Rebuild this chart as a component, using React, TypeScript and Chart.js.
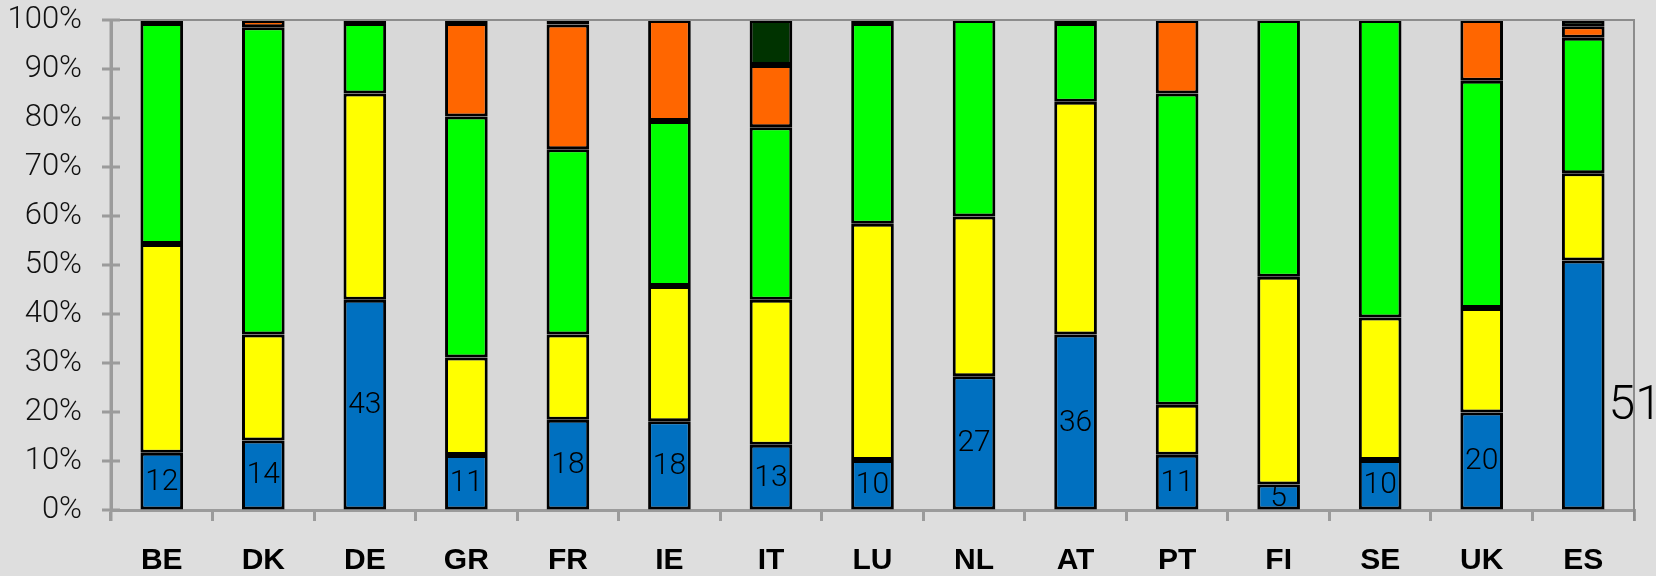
import React, { useEffect, useRef } from 'react';
import { Chart, registerables } from 'chart.js';

Chart.register(...registerables);

const countries = ['BE', 'DK', 'DE', 'GR', 'FR', 'IE', 'IT', 'LU', 'NL', 'AT', 'PT', 'FI', 'SE', 'UK', 'ES'];
const blueValues = [11.7, 14.2, 42.9, 11.2, 18.4, 18.1, 13.3, 10.2, 27.3, 35.8, 11.3, 5.2, 10.2, 19.9, 50.9];
const yellowValues = [42.6, 21.6, 42.1, 19.9, 17.4, 27.6, 29.6, 48.2, 32.6, 47.5, 10.2, 42.4, 29.1, 21.3, 17.8];
const greenValues = [45.1, 62.7, 14.4, 49.2, 37.8, 33.7, 35.2, 41.0, 40.1, 16.1, 63.5, 52.4, 60.7, 46.4, 27.7];
const orangeValues = [0.6, 1.5, 0.6, 19.1, 25.5, 20.6, 12.7, 0, 0, 0, 15.0, 0, 0, 12.4, 2.3];
const darkGreenValues = [0, 0, 0, 0.6, 0.9, 0, 9.2, 0.6, 0, 0.6, 0, 0, 0, 0, 1.3];
const yTicks = [0, 10, 20, 30, 40, 50, 60, 70, 80, 90, 100];
const outsideLabelCategory = 'ES';

const AXIS_GREY = '#9b9b9b';
const LIGHT_FONT = '"Roboto", "Liberation Sans", sans-serif';

const decorPlugin = {
  id: 'decor',
  beforeDraw(chart: any) {
    const { ctx, chartArea: a, width, height } = chart;
    ctx.save();
    ctx.fillStyle = '#dedede';
    ctx.fillRect(0, 0, width, height);
    ctx.fillStyle = '#d8d8d8';
    ctx.fillRect(a.left, a.top, a.right - a.left, a.bottom - a.top);
    ctx.restore();
  },
  afterDraw(chart: any) {
    const { ctx, chartArea: a, scales } = chart;
    const y = scales.y;
    ctx.save();
    ctx.strokeStyle = '#8c8c8c';
    ctx.lineWidth = 2;
    ctx.beginPath();
    ctx.moveTo(a.left, a.top);
    ctx.lineTo(a.right, a.top);
    ctx.lineTo(a.right, a.bottom + 11);
    ctx.stroke();
    ctx.strokeStyle = AXIS_GREY;
    ctx.lineWidth = 3;
    ctx.beginPath();
    ctx.moveTo(a.left, a.top);
    ctx.lineTo(a.left, a.bottom + 11);
    ctx.stroke();
    yTicks.forEach((v) => {
      const py = y.getPixelForValue(v);
      ctx.beginPath();
      ctx.moveTo(a.left - 9, py);
      ctx.lineTo(a.left + 9, py);
      ctx.stroke();
    });
    const meta = chart.getDatasetMeta(0);
    ctx.fillStyle = '#000';
    ctx.textBaseline = 'middle';
    meta.data.forEach((bar: any, i: number) => {
      const text = String(Math.round(blueValues[i]));
      if (countries[i] === outsideLabelCategory) {
        ctx.font = `300 48px ${LIGHT_FONT}`;
        ctx.textAlign = 'left';
        const h = bar.base - bar.y;
        ctx.fillText(text, bar.x + bar.width / 2 + 4, bar.base - h * 0.41);
      } else {
        ctx.font = `300 30px ${LIGHT_FONT}`;
        ctx.textAlign = 'center';
        ctx.fillText(text, bar.x, (bar.y + bar.base) / 2 + 1);
      }
    });
    ctx.restore();
  },
};

export default function App() {
  const canvasRef = useRef<HTMLCanvasElement | null>(null);

  useEffect(() => {
    document.body.style.margin = '0';
    const canvas = canvasRef.current;
    if (!canvas) return;
    const common = {
      borderColor: '#000000',
      borderWidth: 3,
      borderSkipped: false,
      barPercentage: 0.42,
      categoryPercentage: 1,
    };
    const chart = new Chart(canvas, {
      type: 'bar',
      data: {
        labels: countries,
        datasets: [
          { label: 'blue', data: blueValues, backgroundColor: '#0070C0', ...common },
          { label: 'yellow', data: yellowValues, backgroundColor: '#FFFF00', ...common },
          { label: 'green', data: greenValues, backgroundColor: '#00FF00', ...common },
          { label: 'orange', data: orangeValues, backgroundColor: '#FF6600', ...common },
          { label: 'darkgreen', data: darkGreenValues, backgroundColor: '#003300', ...common },
        ],
      },
      options: {
        responsive: true,
        maintainAspectRatio: false,
        animation: false,
        layout: { padding: { top: 20, right: 22, left: 0, bottom: 0 } },
        plugins: {
          legend: { display: false },
          tooltip: { enabled: false },
        },
        scales: {
          x: {
            stacked: true,
            offset: true,
            afterFit: (s: any) => {
              s.height = 66;
              s.paddingLeft = 0;
              s.paddingRight = 0;
            },
            grid: {
              offset: true,
              drawOnChartArea: false,
              drawTicks: true,
              tickLength: 11,
              color: AXIS_GREY,
              lineWidth: 3,
            },
            border: { display: true, color: AXIS_GREY, width: 3 },
            ticks: {
              color: '#000',
              padding: 22,
              font: { family: '"Liberation Sans", Arial, sans-serif', size: 30, weight: 'bold' },
              maxRotation: 0,
            },
          },
          y: {
            stacked: true,
            min: 0,
            max: 100,
            afterFit: (s: any) => {
              s.width = 111;
              s.paddingTop = 0;
              s.paddingBottom = 0;
            },
            afterBuildTicks: (s: any) => {
              s.ticks = yTicks.map((v) => ({ value: v }));
            },
            grid: { display: true, drawOnChartArea: false, drawTicks: false, color: 'rgba(0,0,0,0)' },
            border: { display: true, color: AXIS_GREY, width: 3 },
            ticks: {
              color: '#111',
              padding: 29,
              font: { family: LIGHT_FONT, size: 31, weight: '300' },
              callback: (v: any) => `${v}%`,
            },
          },
        },
      },
      plugins: [decorPlugin],
    });
    return () => chart.destroy();
  }, []);

  return (
    <div style={{ width: '1656px', height: '576px', position: 'relative' }}>
      <canvas ref={canvasRef} />
    </div>
  );
}
